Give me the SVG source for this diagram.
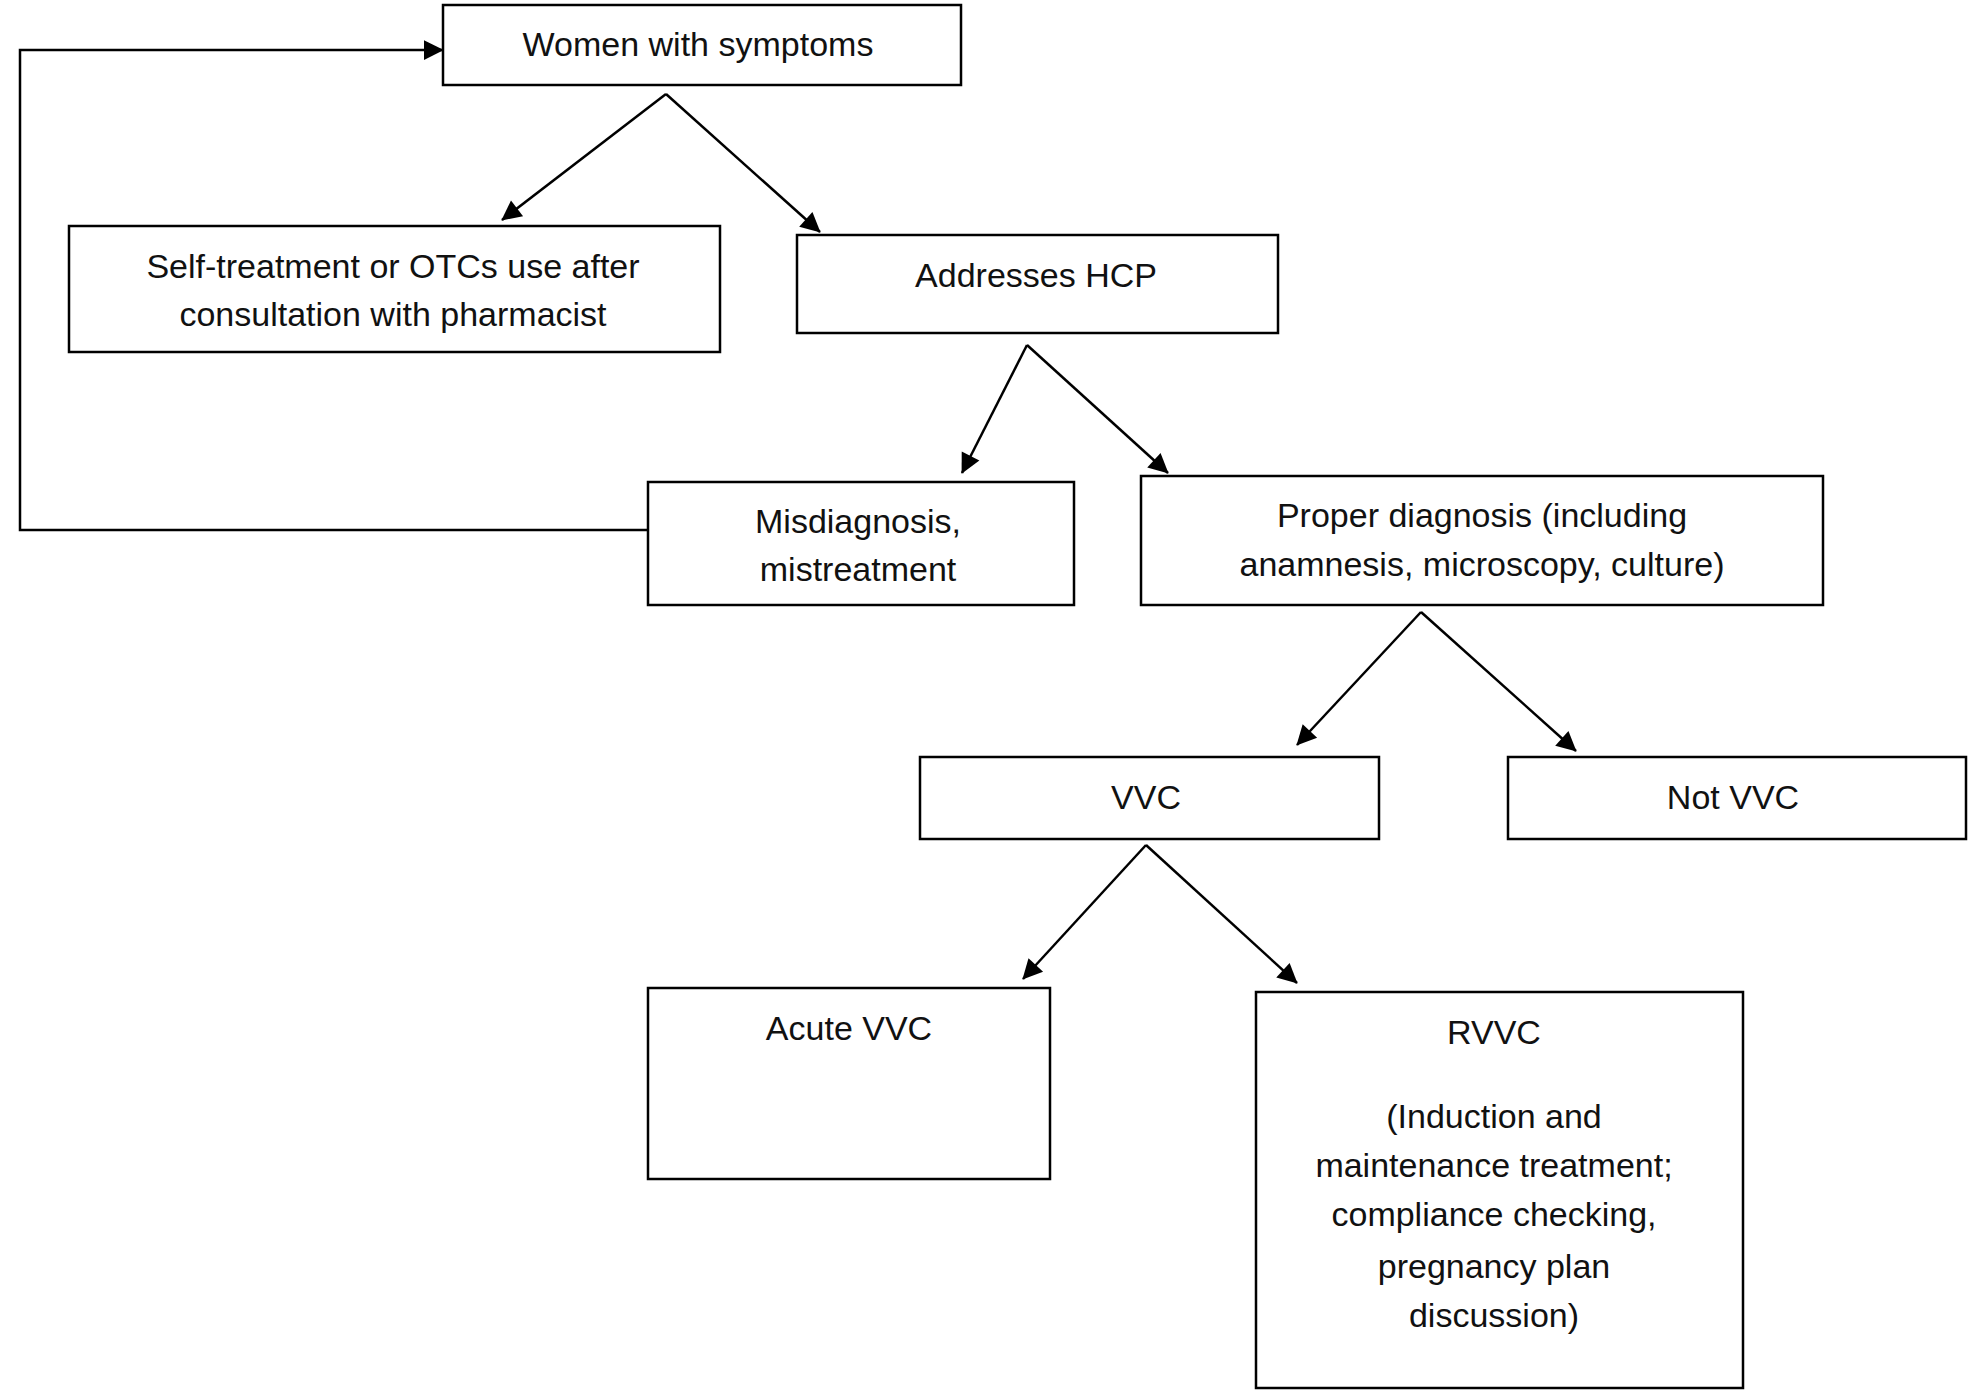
<svg xmlns="http://www.w3.org/2000/svg" width="1969" height="1400" viewBox="0 0 1969 1400">
<style>
.b{fill:#fff;stroke:#000;stroke-width:2.5}
.t{font-family:"Liberation Sans",Arial,sans-serif;font-size:34px;fill:#111;text-anchor:middle;dominant-baseline:central}
.c{fill:none;stroke:#000;stroke-width:2.5}
</style>
<defs><marker id="a" viewBox="0 0 10 10" refX="9" refY="5" markerWidth="9" markerHeight="9" markerUnits="userSpaceOnUse" orient="auto" style="overflow:visible"><path d="M0,0 L10,5 L0,10 z" transform="scale(2.2) translate(-5.5,-2.7)"/></marker></defs>
<rect width="1969" height="1400" fill="#fff"/>
<g id="connectors">
<path class="c" d="M666,94 L502,220" marker-end="url(#a)"/>
<path class="c" d="M666,94 L820,232" marker-end="url(#a)"/>
<path class="c" d="M1027,345 L962,473" marker-end="url(#a)"/>
<path class="c" d="M1027,345 L1168,473" marker-end="url(#a)"/>
<path class="c" d="M1421,612 L1297,745" marker-end="url(#a)"/>
<path class="c" d="M1421,612 L1576,751" marker-end="url(#a)"/>
<path class="c" d="M1146,845 L1023,979" marker-end="url(#a)"/>
<path class="c" d="M1146,845 L1297,983" marker-end="url(#a)"/>
<path class="c" d="M648,530 L20,530 L20,50 L443,50" marker-end="url(#a)"/>
</g>
<g id="n1"><rect class="b" x="443" y="5" width="518" height="80"/><text class="t" x="698" y="44">Women with symptoms</text></g>
<g id="n2"><rect class="b" x="69" y="226" width="651" height="126"/><text class="t" x="393" y="266">Self-treatment or OTCs use after</text><text class="t" x="393" y="314">consultation with pharmacist</text></g>
<g id="n3"><rect class="b" x="797" y="235" width="481" height="98"/><text class="t" x="1036" y="275">Addresses HCP</text></g>
<g id="n4"><rect class="b" x="648" y="482" width="426" height="123"/><text class="t" x="858" y="521">Misdiagnosis,</text><text class="t" x="858" y="569">mistreatment</text></g>
<g id="n5"><rect class="b" x="1141" y="476" width="682" height="129"/><text class="t" x="1482" y="515">Proper diagnosis (including</text><text class="t" x="1482" y="564">anamnesis, microscopy, culture)</text></g>
<g id="n6"><rect class="b" x="920" y="757" width="459" height="82"/><text class="t" x="1146" y="797">VVC</text></g>
<g id="n7"><rect class="b" x="1508" y="757" width="458" height="82"/><text class="t" x="1733" y="797">Not VVC</text></g>
<g id="n8"><rect class="b" x="648" y="988" width="402" height="191"/><text class="t" x="849" y="1028">Acute VVC</text></g>
<g id="n9"><rect class="b" x="1256" y="992" width="487" height="396"/><text class="t" x="1494" y="1032">RVVC</text><text class="t" x="1494" y="1116">(Induction and</text><text class="t" x="1494" y="1165">maintenance treatment;</text><text class="t" x="1494" y="1214">compliance checking,</text><text class="t" x="1494" y="1266">pregnancy plan</text><text class="t" x="1494" y="1315">discussion)</text></g>
</svg>
